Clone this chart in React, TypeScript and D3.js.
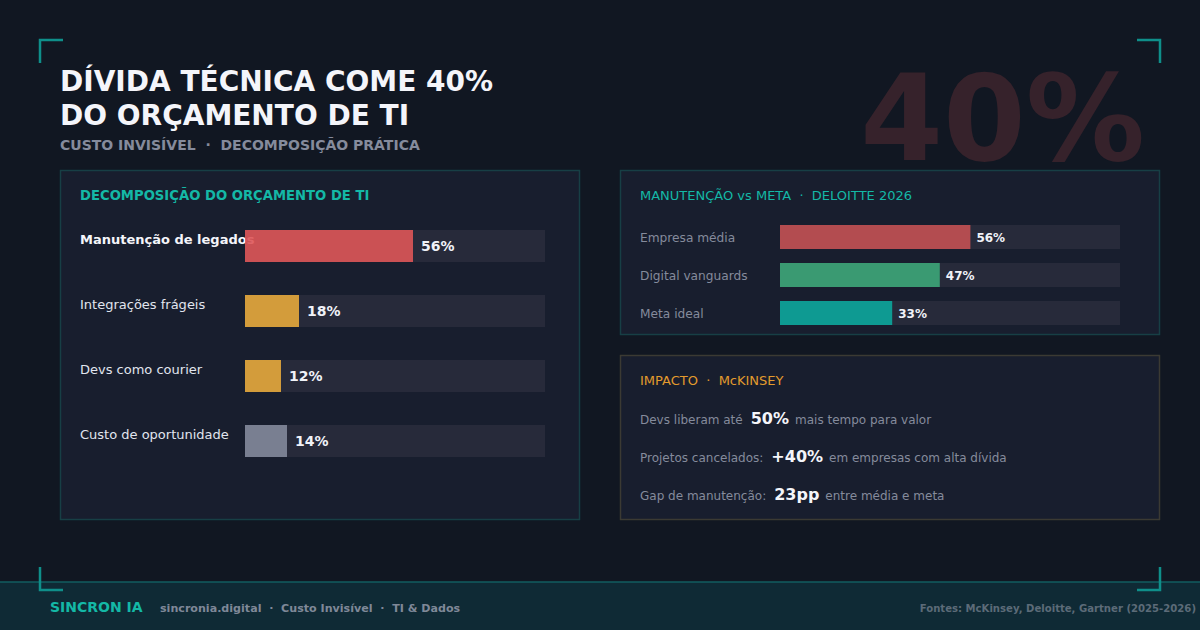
import React from 'react';
import * as d3 from 'd3';

const W = 1200;
const H = 630;
const FONT = '"DejaVu Sans", sans-serif';

const TITLE_LINES = ['DÍVIDA TÉCNICA COME 40%', 'DO ORÇAMENTO DE TI'];
const SUBTITLE = 'CUSTO INVISÍVEL  ·  DECOMPOSIÇÃO PRÁTICA';
const BIG_NUMBER = '40%';

const DECOMP_LABELS = ['Manutenção de legados', 'Integrações frágeis', 'Devs como courier', 'Custo de oportunidade'];
const DECOMP_VALUES = [56, 18, 12, 14];
const DECOMP_COLORS = ['#de5558', '#e7a83c', '#e7a83c', '#83889b'];

const COMPARE_LABELS = ['Empresa média', 'Digital vanguards', 'Meta ideal'];
const COMPARE_VALUES = [56, 47, 33];
const COMPARE_COLORS = ['#b34c50', '#3a9a72', '#0e9a92'];

const IMPACT_BEFORE = ['Devs liberam até', 'Projetos cancelados:', 'Gap de manutenção:'];
const IMPACT_VALUES = ['50%', '+40%', '23pp'];
const IMPACT_AFTER = ['mais tempo para valor', 'em empresas com alta dívida', 'entre média e meta'];

const FOOTER_LINKS = 'sincronia.digital  ·  Custo Invisível  ·  TI & Dados';
const FOOTER_SOURCES = 'Fontes: McKinsey, Deloitte, Gartner (2025-2026)';

const BG = '#111722';
const PANEL = '#181e2e';
const TRACK = '#272a3a';
const TEAL = '#14b8a6';
const CORNER = '#0f8f8a';

function Corner({ x, y, dx, dy }: { x: number; y: number; dx: number; dy: number }) {
  const path = d3.path();
  path.moveTo(x + dx * 23, y);
  path.lineTo(x, y);
  path.lineTo(x, y + dy * 23);
  return <path d={path.toString()} fill="none" stroke={CORNER} strokeWidth={2.5} />;
}

export default function App() {
  // left panel: budget decomposition
  const xDecomp = d3.scaleLinear().domain([0, 100]).range([0, 300]);
  const yDecomp = d3.scaleBand<string>()
    .domain(DECOMP_LABELS)
    .range([230, 457])
    .paddingInner(33 / 65)
    .paddingOuter(0);
  const decompX0 = 245;

  // right panel: maintenance vs goal
  const xCompare = d3.scaleLinear().domain([0, 100]).range([0, 340]);
  const yCompare = d3.scaleBand<string>()
    .domain(COMPARE_LABELS)
    .range([225, 325])
    .paddingInner(14 / 38)
    .paddingOuter(0);
  const compareX0 = 780;

  const yImpact = d3.scalePoint<number>().domain([0, 1, 2]).range([424, 500]);

  return (
    <svg width={W} height={H} viewBox={`0 0 ${W} ${H}`} style={{ display: 'block', position: 'absolute', left: 0, top: 0 }} fontFamily={FONT}>
      <rect width={W} height={H} fill={BG} />

      <text x={1145} y={160} textAnchor="end" fontSize={119} fontWeight="bold" fill="#36222b">{BIG_NUMBER}</text>

      {TITLE_LINES.map((line, i) => (
        <text key={line} x={60} y={91 + i * 34} fontSize={28} fontWeight="bold" fill="#f4f5fa">{line}</text>
      ))}
      <text x={60} y={150} fontSize={14} fontWeight="bold" fill="#858b9c" style={{ whiteSpace: 'pre' }}>{SUBTITLE}</text>

      {/* decomposition panel */}
      <rect x={60.5} y={170.5} width={519} height={349} fill={PANEL} stroke="#173f45" strokeWidth={1.5} />
      <text x={80} y={200} fontSize={13.2} fontWeight="bold" fill={TEAL}>DECOMPOSIÇÃO DO ORÇAMENTO DE TI</text>
      {DECOMP_LABELS.map((label, i) => {
        const y = yDecomp(label) ?? 0;
        const h = yDecomp.bandwidth();
        const w = xDecomp(DECOMP_VALUES[i]);
        return (
          <g key={label}>
            <rect x={decompX0} y={y} width={xDecomp(100)} height={h} fill={TRACK} />
            <text x={80} y={y + 14} fontSize={13} fontWeight={i === 0 ? 'bold' : 'normal'} fill={i === 0 ? '#f4f5fa' : '#e1e5ee'}>{label}</text>
            <rect x={decompX0} y={y} width={w} height={h} fill={DECOMP_COLORS[i]} opacity={0.9} />
            <text x={decompX0 + w + 8} y={y + h / 2 + 5} fontSize={14} fontWeight="bold" fill="#f0f2f8">{DECOMP_VALUES[i]}%</text>
          </g>
        );
      })}

      {/* comparison panel */}
      <rect x={620.5} y={170.5} width={539} height={164} fill={PANEL} stroke="#173f45" strokeWidth={1.5} />
      <text x={640} y={200} fontSize={13} fill={TEAL} style={{ whiteSpace: 'pre' }}>MANUTENÇÃO vs META  ·  DELOITTE 2026</text>
      {COMPARE_LABELS.map((label, i) => {
        const y = yCompare(label) ?? 0;
        const h = yCompare.bandwidth();
        const w = xCompare(COMPARE_VALUES[i]);
        return (
          <g key={label}>
            <text x={640} y={y + h / 2 + 4.5} fontSize={12.2} fill="#858b9c">{label}</text>
            <rect x={compareX0} y={y} width={xCompare(100)} height={h} fill={TRACK} />
            <rect x={compareX0} y={y} width={w} height={h} fill={COMPARE_COLORS[i]} />
            <text x={compareX0 + w + 6} y={y + h / 2 + 4.5} fontSize={12} fontWeight="bold" fill="#f0f2f8">{COMPARE_VALUES[i]}%</text>
          </g>
        );
      })}

      {/* impact panel */}
      <rect x={620.5} y={355.5} width={539} height={164} fill={PANEL} stroke="#3b3a33" strokeWidth={1.5} />
      <text x={640} y={385} fontSize={13} fill="#e39b2d" style={{ whiteSpace: 'pre' }}>IMPACTO  ·  McKINSEY</text>
      {IMPACT_BEFORE.map((before, i) => (
        <text key={before} x={640} y={yImpact(i)} fontSize={12} fill="#858b9c">
          <tspan>{before}</tspan>
          <tspan dx={8} fontSize={16} fontWeight="bold" fill="#f4f5fa">{IMPACT_VALUES[i]}</tspan>
          <tspan dx={6}>{IMPACT_AFTER[i]}</tspan>
        </text>
      ))}

      {/* footer */}
      <rect x={0} y={582} width={W} height={48} fill="#0f2a35" />
      <line x1={0} x2={W} y1={582} y2={582} stroke="#125e60" strokeWidth={1.5} />
      <text x={50} y={612} fontSize={14} fontWeight="bold" fill={TEAL}>SINCRON IA</text>
      <text x={160} y={612} fontSize={11.1} fontWeight="bold" fill="#7f8898" style={{ whiteSpace: 'pre' }}>{FOOTER_LINKS}</text>
      <text x={1196} y={612} textAnchor="end" fontSize={10.1} fontWeight="bold" fill="#5c6b78">{FOOTER_SOURCES}</text>

      <Corner x={40} y={40} dx={1} dy={1} />
      <Corner x={1160} y={40} dx={-1} dy={1} />
      <Corner x={40} y={590} dx={1} dy={-1} />
      <Corner x={1160} y={590} dx={-1} dy={-1} />
    </svg>
  );
}
